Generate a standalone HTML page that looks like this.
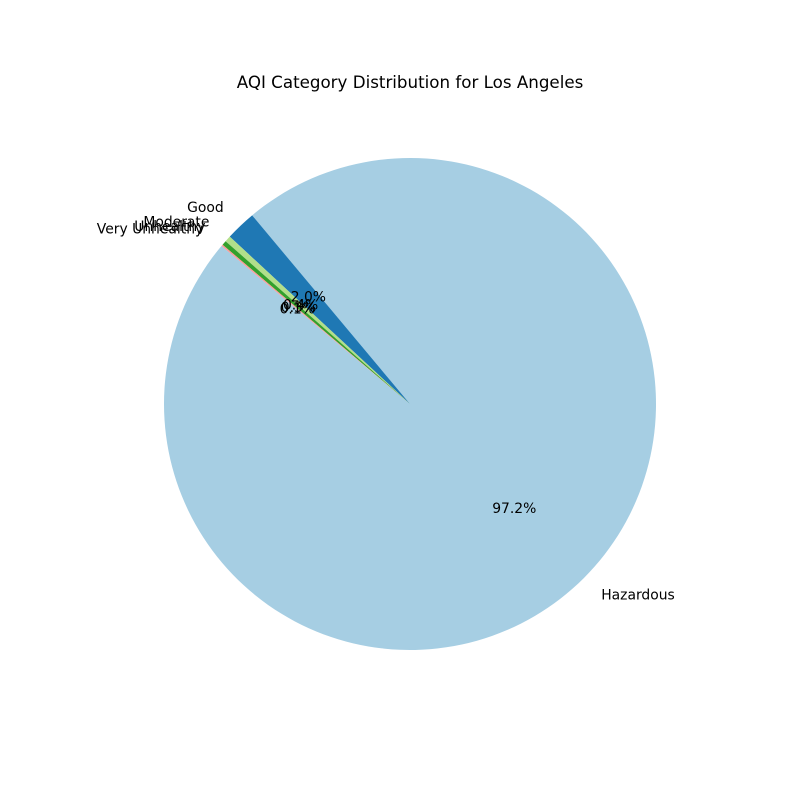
<!DOCTYPE html>
<html><head><meta charset="utf-8"><style>
html,body{margin:0;padding:0;background:#fff}
svg text{font-family:"DejaVu Sans","Liberation Sans",sans-serif;fill:#000}
</style></head><body>
<svg id="chart" width="800" height="800" viewBox="0 0 800 800">
<text x="410" y="88" font-size="16.7" text-anchor="middle">AQI Category Distribution for Los Angeles</text>
<g id="slices"></g>
<g id="labels"></g>
</svg>
<script>
const categories = ["Hazardous","Good","Moderate","Unhealthy","Very Unhealthy"];
const values = [97.2, 2.0, 0.4, 0.3, 0.1];
const colors = ["#a6cee3","#1f78b4","#b2df8a","#33a02c","#fb9a99"];
const startAngle = 140;
const cx = 410, cy = 404, r = 246;
const ns = "http://www.w3.org/2000/svg";
const total = values.reduce((a,b)=>a+b,0);
const gS = document.getElementById('slices'), gL = document.getElementById('labels');
function pt(deg, rad){const a=deg*Math.PI/180;return [cx+rad*Math.cos(a), cy-rad*Math.sin(a)];}
let ang = startAngle;
categories.forEach((c,i)=>{
  const sweep = values[i]/total*360;
  const a0 = ang, a1 = ang+sweep;
  const p0 = pt(a0,r), p1 = pt(a1,r);
  const path = document.createElementNS(ns,'path');
  path.setAttribute('d',`M${cx},${cy} L${p0[0]},${p0[1]} A${r},${r} 0 ${sweep>180?1:0} 0 ${p1[0]},${p1[1]} Z`);
  path.setAttribute('fill',colors[i]);
  
  
  gS.appendChild(path);
  const mid = (a0+a1)/2;
  const lp = pt(mid, r*1.1);
  const t = document.createElementNS(ns,'text');
  t.setAttribute('x',lp[0]); t.setAttribute('y',lp[1]+4);
  t.setAttribute('font-size','13.9');
  t.setAttribute('text-anchor', Math.cos(mid*Math.PI/180)>=0?'start':'end');
  t.textContent = c;
  
  
  gL.appendChild(t);
  const pp = pt(mid, r*0.6);
  const t2 = document.createElementNS(ns,'text');
  t2.setAttribute('x',pp[0]); t2.setAttribute('y',pp[1]+4.5);
  t2.setAttribute('font-size','13.9');
  t2.setAttribute('text-anchor','middle');
  t2.textContent = (values[i]/total*100).toFixed(1)+'%';
  
  
  gL.appendChild(t2);
  ang = a1;
});
</script>
</body></html>
